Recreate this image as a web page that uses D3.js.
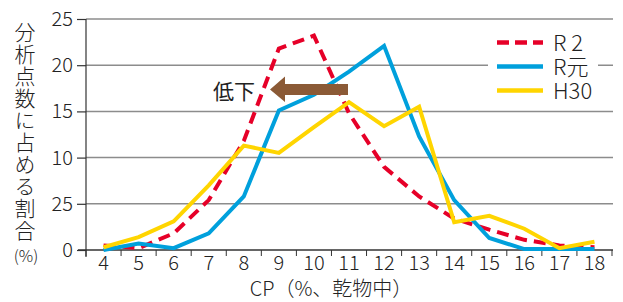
<!DOCTYPE html>
<html><head><meta charset="utf-8">
<script src="https://cdn.jsdelivr.net/npm/d3@7"></script>
<style>
html,body{margin:0;padding:0;background:#fff;}
svg{display:block;font-family:"Noto Sans CJK JP","Noto Sans",sans-serif;}
</style></head>
<body><svg id="c" width="623" height="302"></svg>
<script>
const categories = ["4","5","6","7","8","9","10","11","12","13","14","15","16","17","18"];
const r2Values  = [0.5,0.2,1.8,5.4,11.8,21.8,23.2,14.8,9.0,5.8,3.4,2.2,1.1,0.5,0.3];
const rGenValues = [0.0,0.7,0.2,1.8,5.8,15.1,16.8,19.3,22.1,12.3,5.4,1.3,0.1,0.1,0.1];
const h30Values = [0.3,1.4,3.1,7.0,11.3,10.5,13.3,16.0,13.4,15.5,3.0,3.7,2.3,0.2,0.9];
const yTickValues = [0,5,10,15,20,25];
const yTickLabels = ["0","25","10","15","20","25"];
const seriesNames = ["R 2","R元","H30"];
const yTitle = "分析点数に占める割合";

const svg = d3.select("#c");
const x = d3.scaleBand().domain(categories).range([86,612]).padding(0);
const y = d3.scaleLinear().domain([0,25]).range([250,19]);
const cx = d => x(d) + x.bandwidth()/2;

// gridlines
svg.append("g").selectAll("line").data(yTickValues.filter(v=>v>0)).join("line")
  .attr("x1",86).attr("x2",613).attr("y1",d=>y(d)).attr("y2",d=>y(d))
  .attr("stroke","#8c8c8c").attr("stroke-width",1.5);

// y axis
const yAxis = d3.axisLeft(y).tickValues(yTickValues).tickSize(9).tickPadding(4)
  .tickFormat((d,i)=>yTickLabels[i]);
const gy = svg.append("g").attr("transform","translate(86,0)").call(yAxis);
gy.select(".domain").remove();
gy.selectAll(".tick line").attr("stroke","#333").attr("stroke-width",1.2);
gy.selectAll(".tick text").attr("font-size",20).attr("fill","#222")
  .attr("font-family","'Noto Sans CJK JP',sans-serif").attr("font-weight",300);
svg.append("line").attr("x1",86).attr("x2",86).attr("y1",19).attr("y2",257)
  .attr("stroke","#333").attr("stroke-width",1.2);

// x axis
svg.append("line").attr("x1",78).attr("x2",613).attr("y1",250).attr("y2",250)
  .attr("stroke","#333").attr("stroke-width",1.5);
const bounds = categories.map(c=>x(c)).concat([x(categories[categories.length-1])+x.bandwidth()]);
svg.append("g").selectAll("line").data(bounds).join("line")
  .attr("x1",d=>d).attr("x2",d=>d).attr("y1",250).attr("y2",256)
  .attr("stroke","#333").attr("stroke-width",1);
const xAxis = d3.axisBottom(x).tickSize(0).tickPadding(5);
const gx = svg.append("g").attr("transform","translate(0,251)").call(xAxis);
gx.select(".domain").remove();
gx.selectAll(".tick text").attr("font-size",20).attr("fill","#222")
  .attr("font-family","'Noto Sans CJK JP',sans-serif").attr("font-weight",300);

// lines
const line = d3.line().x((d,i)=>cx(categories[i])).y(d=>y(d));
svg.append("path").datum(r2Values).attr("d",line).attr("fill","none")
  .attr("stroke","#e60028").attr("stroke-width",4).attr("stroke-dasharray","12,7");
svg.append("path").datum(rGenValues).attr("d",line).attr("fill","none")
  .attr("stroke","#00a0dc").attr("stroke-width",4);
svg.append("path").datum(h30Values).attr("d",line).attr("fill","none")
  .attr("stroke","#ffd500").attr("stroke-width",4);

// arrow
const brown = "#8b5a36";
svg.append("path")
  .attr("d","M348,84 L285,84 L285,76.5 L270,89.5 L285,102 L285,95 L348,95 Z")
  .attr("fill",brown);
svg.append("text").attr("x",234).attr("y",90).attr("text-anchor","middle")
  .attr("dominant-baseline","central").attr("font-size",21).attr("fill","#222")
  .text("低下");

// legend
svg.append("rect").attr("x",488).attr("y",28).attr("width",110).attr("height",74).attr("fill","#fff");
const legColors = ["#e60028","#00a0dc","#ffd500"];
seriesNames.forEach((n,i)=>{
  const ly = 42.5 + i*24;
  svg.append("line").attr("x1",497).attr("x2",543).attr("y1",ly).attr("y2",ly)
    .attr("stroke",legColors[i]).attr("stroke-width",4.5)
    .attr("stroke-dasharray", i===0 ? "12,6" : null);
});
const legText = svg.append("text").attr("font-size",22).attr("font-weight",300).attr("fill","#222");
seriesNames.forEach((n,i)=>{
  legText.append("tspan").attr("x",553).attr("y",50.5 + i*24).text(n);
});

// y title (vertical)
svg.append("text").attr("x",25).attr("y",22)
  .attr("writing-mode","vertical-rl").style("writing-mode","vertical-rl")
  .attr("font-size",21).attr("font-weight",300).attr("letter-spacing",1)
  .attr("fill","#222").text(yTitle);
svg.append("text").attr("x",26).attr("y",262).attr("text-anchor","middle")
  .attr("font-size",16).attr("font-weight",300)
  .attr("fill","#222").text("(%)");

// x title
svg.append("text").attr("x",331).attr("y",296).attr("text-anchor","middle")
  .attr("font-size",20).attr("font-weight",300)
  .attr("fill","#222").text("CP（%、乾物中）");
</script></body></html>
